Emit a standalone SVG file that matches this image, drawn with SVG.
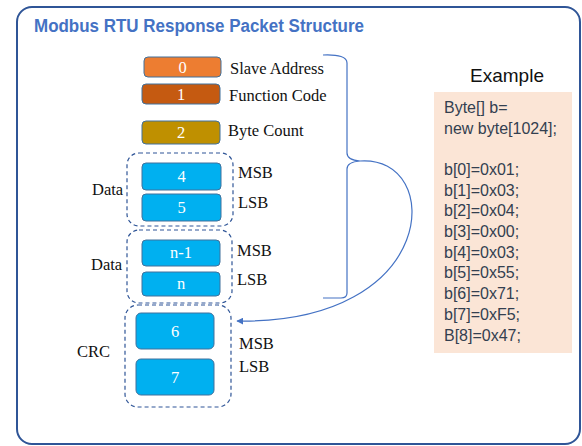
<svg xmlns="http://www.w3.org/2000/svg" width="582" height="446" viewBox="0 0 582 446">
<defs>
<style>
.title{font-family:"Liberation Sans",Arial,sans-serif;font-weight:bold;font-size:18px;fill:#4472C4}
.lbl{font-family:"Liberation Serif","Times New Roman",serif;font-size:16.5px;fill:#111111}
.num{font-family:"Liberation Serif","Times New Roman",serif;font-size:16.5px;fill:#ffffff;text-anchor:middle}
.byte{stroke:#41719C;stroke-width:1}
.grp{fill:none;stroke:#2F5597;stroke-width:1.2;stroke-dasharray:4 3}
.code{font-family:"Liberation Sans",Arial,sans-serif;font-size:16px;fill:#333F50}
.conn{fill:none;stroke:#4472C4;stroke-width:1.2}
</style>
<marker id="ah" viewBox="0 0 10 10" refX="9" refY="5" markerWidth="7" markerHeight="7" orient="auto-start-reverse" markerUnits="userSpaceOnUse">
<path d="M0,0 L10,5 L0,10 z" fill="#4472C4"/>
</marker>
</defs>
<rect x="17" y="7" width="563" height="437" rx="15" fill="#ffffff" stroke="#2F5597" stroke-width="2"/>
<text class="title" x="34" y="32" textLength="330" lengthAdjust="spacingAndGlyphs">Modbus RTU Response Packet Structure</text>

<g id="byte0"><rect class="byte" x="144" y="57" width="77" height="20" rx="4" fill="#ED7D31"/><text class="num" x="182.5" y="73">0</text><text class="lbl" x="230" y="73.5">Slave Address</text></g>
<g id="byte1"><rect class="byte" x="142" y="84" width="78" height="20" rx="4" fill="#C55A11"/><text class="num" x="181" y="100">1</text><text class="lbl" x="229" y="101">Function Code</text></g>
<g id="byte2"><rect class="byte" x="142" y="121" width="78" height="23" rx="4" fill="#BF9000"/><text class="num" x="181" y="138">2</text><text class="lbl" x="228" y="136">Byte Count</text></g>

<g id="data1"><rect class="grp" x="127" y="153" width="106" height="73" rx="12"/><text class="lbl" x="92" y="195">Data</text>
<rect class="byte" x="142" y="163" width="79" height="27" rx="4" fill="#00B0F0"/><text class="num" x="181.5" y="182">4</text>
<rect class="byte" x="142" y="194" width="79" height="27" rx="4" fill="#00B0F0"/><text class="num" x="181.5" y="213">5</text>
<text class="lbl" x="238" y="178">MSB</text><text class="lbl" x="238" y="208">LSB</text></g>

<g id="data2"><rect class="grp" x="127" y="230" width="105" height="73" rx="12"/><text class="lbl" x="91" y="270">Data</text>
<rect class="byte" x="142" y="240" width="78" height="26" rx="4" fill="#00B0F0"/><text class="num" x="181" y="258">n-1</text>
<rect class="byte" x="142" y="272" width="78" height="24" rx="4" fill="#00B0F0"/><text class="num" x="181" y="289">n</text>
<text class="lbl" x="237" y="256">MSB</text><text class="lbl" x="237" y="285">LSB</text></g>

<g id="crc"><rect class="grp" x="125" y="305" width="106" height="102" rx="13"/><text class="lbl" x="77" y="357">CRC</text>
<rect class="byte" x="136" y="313" width="78" height="36" rx="5" fill="#00B0F0"/><text class="num" x="175" y="337">6</text>
<rect class="byte" x="136" y="359" width="78" height="36" rx="5" fill="#00B0F0"/><text class="num" x="175" y="383">7</text>
<text class="lbl" x="239" y="349">MSB</text><text class="lbl" x="239" y="372">LSB</text></g>

<g id="example"><text x="507" y="82" text-anchor="middle" font-family="'Liberation Sans',Arial,sans-serif" font-size="19" fill="#111">Example</text>
<rect x="434" y="92" width="138" height="261" fill="#FBE5D6"/>
<text class="code" x="444" y="113">Byte[] b=</text>
<text class="code" x="444" y="134">new byte[1024];</text>
<text class="code" x="444" y="175">b[0]=0x01;</text>
<text class="code" x="444" y="196">b[1]=0x03;</text>
<text class="code" x="444" y="216">b[2]=0x04;</text>
<text class="code" x="444" y="237">b[3]=0x00;</text>
<text class="code" x="444" y="258">b[4]=0x03;</text>
<text class="code" x="444" y="278">b[5]=0x55;</text>
<text class="code" x="444" y="299">b[6]=0x71;</text>
<text class="code" x="444" y="320">b[7]=0xF5;</text>
<text class="code" x="444" y="341">B[8]=0x47;</text></g>

<g id="connectors">
<path class="conn" d="M323,55 Q347,54 347,63 L347,153 Q347,160 360,161 Q347,162 347,169 L347,293 Q347,298 341,298 L323,298"/>
<path class="conn" d="M360,161 C445,155 440,325 237,321" marker-end="url(#ah)"/>
</g>
</svg>
